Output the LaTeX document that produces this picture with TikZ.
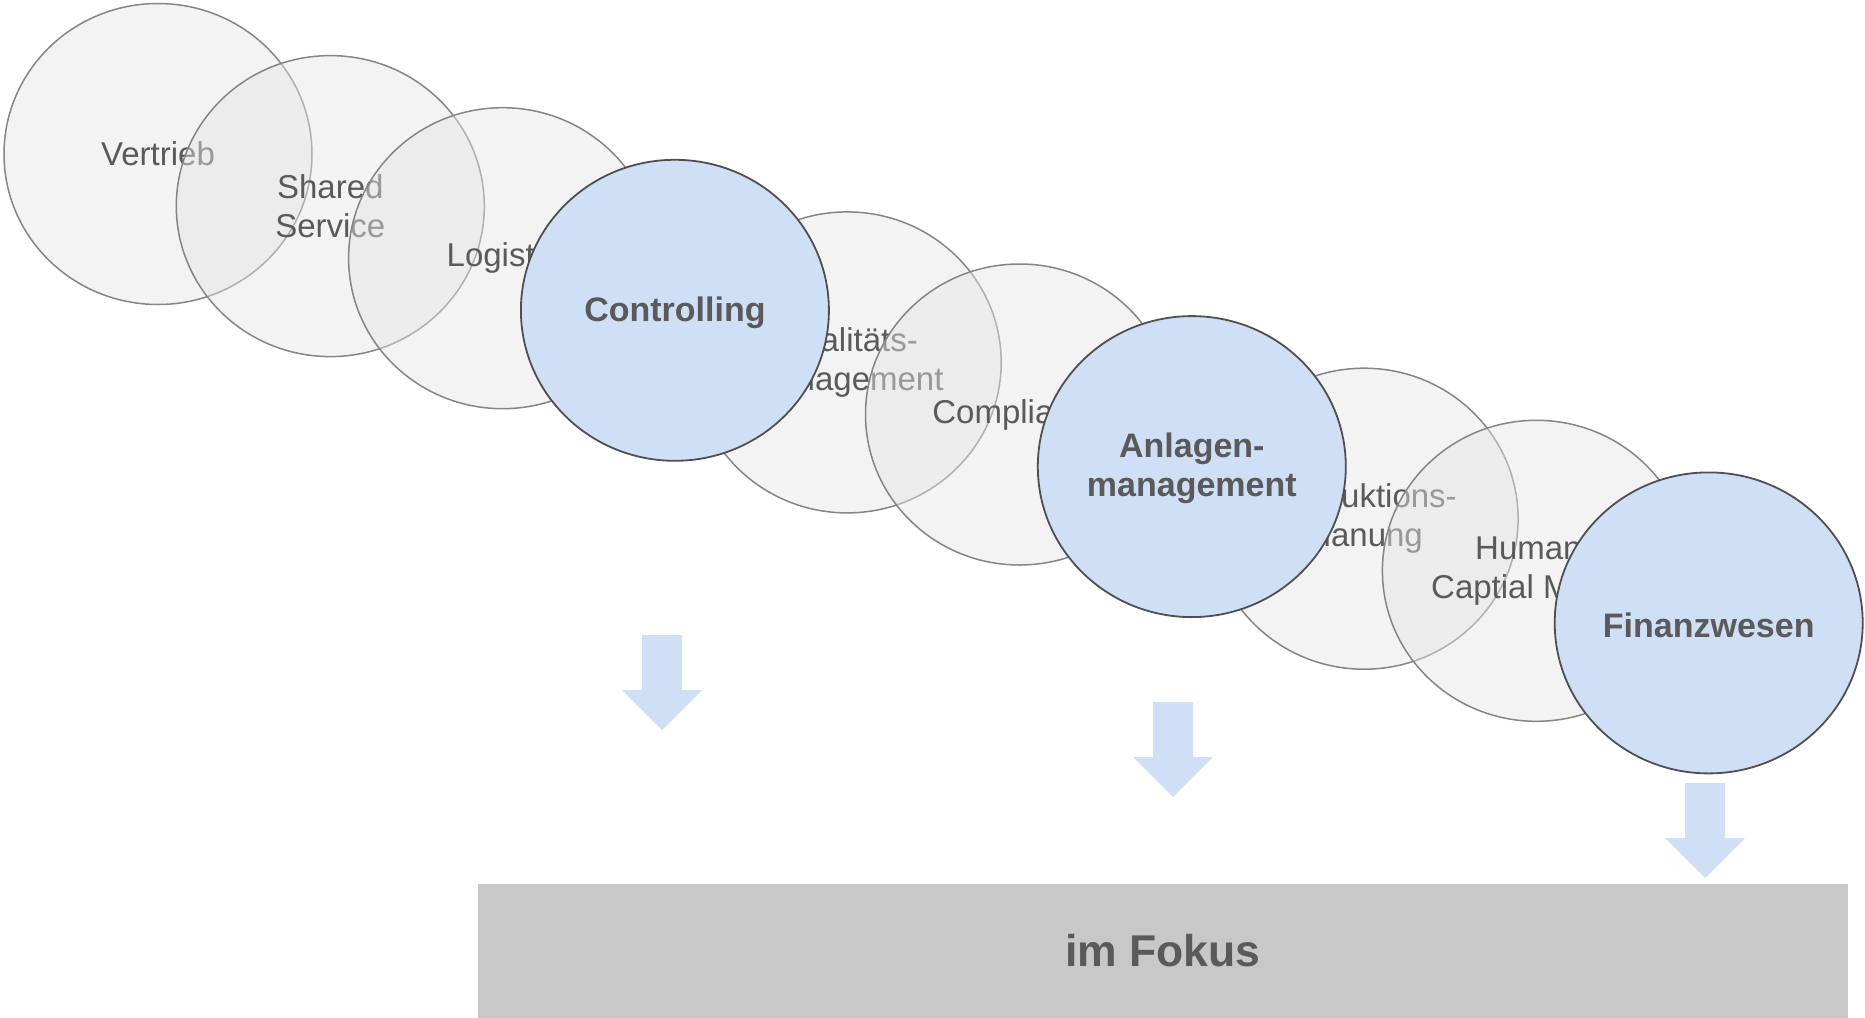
\documentclass[tikz,border=0pt]{standalone}
\usepackage{fontspec}
\usetikzlibrary{shapes.geometric}
\setmainfont{Liberation Sans}
\definecolor{circblue}{HTML}{CEDFF6}
\definecolor{circgray}{HTML}{E4E4E4}
\definecolor{edgegray}{HTML}{858585}
\definecolor{edgedark}{HTML}{4F4F4F}
\definecolor{txtgray}{HTML}{5A5A5A}
\definecolor{barfill}{HTML}{C8C8C8}
\begin{document}
\begin{tikzpicture}[x=1pt,y=-1pt,
  graycirc/.style={ellipse, minimum width=308pt, minimum height=301pt, inner sep=0pt, draw=edgegray, line width=1.5pt,
     fill=circgray, fill opacity=0.46, draw opacity=1},
  graytxt/.style={text=txtgray, align=center, inner sep=0pt, font=\fontsize{33}{39}\selectfont},
  bluecirc/.style={ellipse, minimum width=308pt, minimum height=301pt, inner sep=0pt, draw=edgedark, line width=1.8pt,
     fill=circblue},
  bluetxt/.style={text=txtgray, align=center, inner sep=0pt, font=\bfseries\fontsize{34}{39}\selectfont},
  focusbar/.style={rectangle, fill=barfill, inner sep=0pt, minimum width=1370pt, minimum height=134pt},
  focustxt/.style={text=txtgray, inner sep=0pt, font=\bfseries\fontsize{44.5}{50}\selectfont},
  downarr/.pic={\fill[circblue] (-20,0) -- (20,0) -- (20,55) -- (40,55) -- (0,95) -- (-40,55) -- (-20,55) -- cycle;}
]
\useasboundingbox (0,0) rectangle (1865,1017);

% gray circles with their texts
\node[graycirc] (c0) at (158,154) {};
\node[graytxt] (t0) at (c0.center) {Vertrieb};
\node[graycirc] (c1) at (330.3,206.1) {};
\node[graytxt] (t1) at (c1.center) {Shared\\Service};
\node[graycirc] (c2) at (502.6,258.2) {};
\node[graytxt] (t2) at (c2.center) {Logistik};
\node[graycirc] (c4) at (847.2,362.4) {};
\node[graytxt] (t4) at (c4.center) {Qualitäts-\\management};
\node[graycirc] (c5) at (1019.5,414.5) {};
\node[graytxt] (t5) at (c5.center) {Compliance};
\node[graycirc] (c7) at (1364.1,518.7) {};
\node[graytxt] (t7) at (c7.center) {Produktions-\\planung};
\node[graycirc] (c8) at (1536.4,570.8) {};
\node[graytxt] (t8) at ([xshift=-8pt]c8.center) {Human\\Captial Mgmt};

% blue circles on top
\node[bluecirc] (c3) at (674.9,310.3) {};
\node[bluetxt] (t3) at ([yshift=-2pt]c3.center) {Controlling};
\node[bluecirc] (c6) at (1191.8,466.6) {};
\node[bluetxt] (t6) at ([yshift=-2pt]c6.center) {Anlagen-\\management};
\node[bluecirc] (c9) at (1708.7,622.9) {};
\node[bluetxt] (t9) at ([yshift=-2pt]c9.center) {Finanzwesen};

% arrows
\pic at (662,635) {downarr};
\pic at (1173,702) {downarr};
\pic at (1705,783) {downarr};

% focus bar
\node[focusbar] (focus) at (1163,951) {};
\node[focustxt] (focustext) at (focus.center) {im Fokus};
\end{tikzpicture}
\end{document}
